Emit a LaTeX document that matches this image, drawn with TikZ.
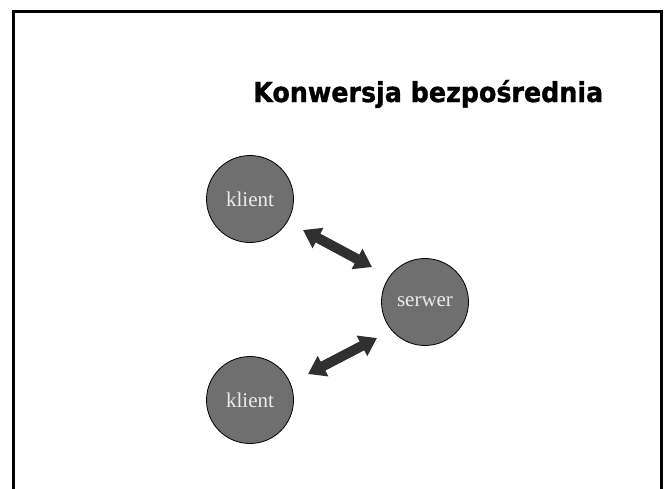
\documentclass[tikz,border=0pt]{standalone}
\usepackage{fontspec}
\usepackage{graphicx}
\setmainfont{Liberation Serif}
\newfontfamily\titlefont[BoldFeatures={FakeBold=1.2}]{DejaVu Sans}
\usetikzlibrary{arrows.meta}
\definecolor{nodefill}{RGB}{111,111,111}
\definecolor{nodetext}{RGB}{236,236,236}
\definecolor{arrowfill}{RGB}{48,48,48}
\tikzset{
  hostnode/.style={circle, draw=black, line width=0.8pt, fill=nodefill, minimum size=87pt, inner sep=0pt, text=nodetext, font=\fontsize{21}{24}\selectfont},
  blockarrow/.style={draw=arrowfill, line width=10pt,
     {Triangle[length=17pt,width=22pt]}-{Triangle[length=17pt,width=22pt]}},
  frameline/.style={draw=black, line width=3pt}
}
\begin{document}
\begin{tikzpicture}[x=1pt,y=-1pt]
\useasboundingbox (0,0) rectangle (666,488);
\clip (0,0) rectangle (666,488);
\fill[white] (0,0) rectangle (666,488);
\draw[frameline] (13,520) -- (13,11) -- (661,11) -- (661,520);
\node[anchor=base west, inner sep=0pt] (title) at (253,102)
  {\resizebox{350pt}{\height}{\titlefont\bfseries\fontsize{27.5}{32}\selectfont Konwersja bezpośrednia}};
\node[hostnode] (k1) at (250,199) {klient};
\node[hostnode] (s) at (425,302) {serwer};
\node[hostnode] (k2) at (250,400) {klient};
\coordinate (a1) at (303,230);
\coordinate (a2) at (372,267);
\coordinate (b1) at (308,374);
\coordinate (b2) at (377,338);
\draw[blockarrow] (a1) -- (a2);
\draw[blockarrow] (b1) -- (b2);
\end{tikzpicture}
\end{document}
